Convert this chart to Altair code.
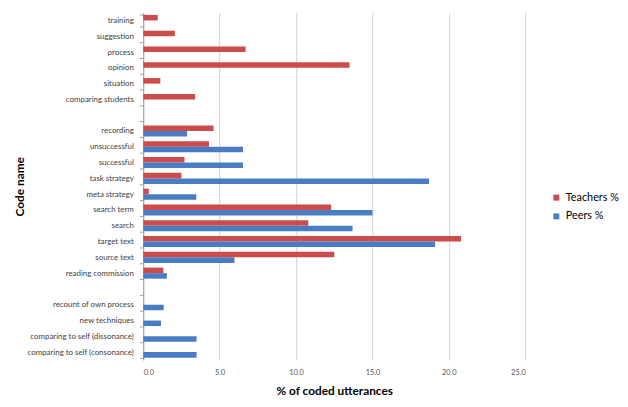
import altair as alt
import pandas as pd

categories = ["training", "suggestion", "process", "opinion", "situation",
              "comparing students", " ", "recording", "unsuccessful", "successful",
              "task strategy", "meta strategy", "search term", "search", "target text",
              "source text", "reading commission", "  ", "recount of own process",
              "new techniques", "comparing to self (dissonance)",
              "comparing to self (consonance)"]
teachers = [0.95, 2.07, 6.7, 13.5, 1.12, 3.4, None, 4.6, 4.3, 2.7, 2.5, 0.37,
            12.3, 10.8, 20.8, 12.5, 1.32, None, None, None, None, None]
peers = [None, None, None, None, None, None, None, 2.87, 6.53, 6.53, 18.7, 3.47,
         15.0, 13.7, 19.1, 5.97, 1.55, None, 1.34, 1.16, 3.49, 3.49]
series = ["Teachers %", "Peers %"]
colors = ["#cc4b4b", "#4a7cc4"]

rows = []
for c, t, p in zip(categories, teachers, peers):
    if t is not None:
        rows.append({"code": c, "series": series[0], "value": t})
    if p is not None:
        rows.append({"code": c, "series": series[1], "value": p})
df = pd.DataFrame(rows)

FONT = "Lato"

chart = alt.Chart(df).mark_bar().encode(
    y=alt.Y("code:N", sort=categories,
            scale=alt.Scale(domain=categories, paddingInner=0.3, paddingOuter=0.15),
            axis=alt.Axis(title="Code name", titleFontWeight="bold", titleFontSize=12,
                          titleFont=FONT, titleColor="#000000",
                          titleX=-125, titleY=176, titleAngle=-90, titleAlign="center",
                          titleBaseline="middle",
                          labelFont=FONT, labelFontSize=8, labelColor="#404040",
                          labelPadding=6,
                          tickBand="extent", tickColor="#a0a0a0", tickSize=4,
                          domainColor="#a0a0a0")),
    yOffset=alt.YOffset("series:N", sort=series, scale=alt.Scale(domain=series)),
    x=alt.X("value:Q",
            scale=alt.Scale(domain=[0, 25], nice=False),
            axis=alt.Axis(title="% of coded utterances", titleFontWeight="bold",
                          titleFontSize=12, titleFont=FONT, titleColor="#000000",
                          titlePadding=9,
                          values=[0, 5, 10, 15, 20, 25], format=".1f",
                          labelFont=FONT, labelFontSize=7.5, labelColor="#555555",
                          labelPadding=9, ticks=False, domain=False,
                          grid=True, gridColor="#d0d0d0")),
    color=alt.Color("series:N", sort=series,
                    scale=alt.Scale(domain=series, range=colors),
                    legend=alt.Legend(title=None, orient="none", legendX=413, legendY=182,
                                      symbolType="square", symbolSize=36,
                                      labelFont=FONT, labelFontSize=11,
                                      labelColor="#000000", rowPadding=7)),
).properties(
    width=387, height=352,
    autosize=alt.AutoSizeParams(type="none"),
    padding={"left": 137, "top": 2, "right": 96, "bottom": 45},
).configure_view(stroke=None)

chart.save("out.html", embed_options={"renderer": "svg", "actions": False})
